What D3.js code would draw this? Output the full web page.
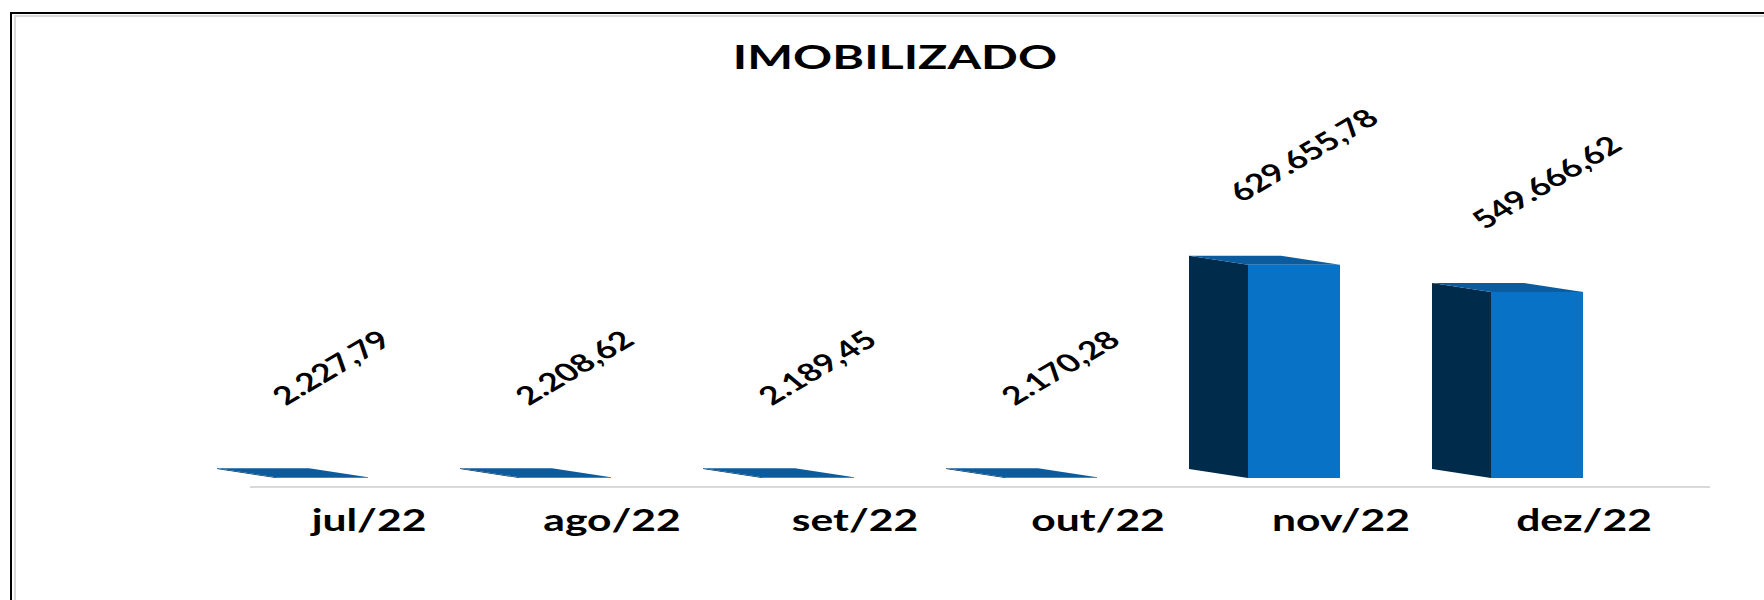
<!DOCTYPE html>
<html>
<head>
<meta charset="utf-8">
<script src="https://cdn.jsdelivr.net/npm/d3@7"></script>
<style>
  body { margin: 0; background: #fff; }
  text { font-family: Lato, "Open Sans", sans-serif; font-weight: bold; fill: #000; }
</style>
</head>
<body>
<div id="chart"></div>
<script>
width = 1764
height = 600

// data
let months = ["jul/22", "ago/22", "set/22", "out/22", "nov/22", "dez/22"]
let values = [2227.79, 2208.62, 2189.45, 2170.28, 629655.78, 549666.62]
let valueLabels = ["2.227,79", "2.208,62", "2.189,45", "2.170,28", "629.655,78", "549.666,62"]
let title = "IMOBILIZADO"

// the picture is stretched sideways, text too
let stretch = 1.42
let depthX = 59, depthY = 9
let frontW = 92
let base = 478

let svg = d3.select("#chart")
.append("svg")
.attr("width", width)
.attr("height", height)

// frame (top + left edges only)
svg.append("path").attr("d", "M11,600 V13 H1764").attr("fill", "none").attr("stroke", "#000").attr("stroke-width", 2)
svg.append("path").attr("d", "M15,600 V16 H1764").attr("fill", "none").attr("stroke", "#d9d9d9").attr("stroke-width", 2)

let x = d3.scaleBand()
.domain(months)
.range([217, 217 + 243 * 6])

let y = d3.scaleLinear()
.domain([0, 700000])
.range([base - depthY, base - depthY - 237])

svg.append("text")
.attr("transform", "translate(895,69) scale(1.47,1)")
.attr("text-anchor", "middle")
.attr("font-size", 33)
.text(title)

// axis line
svg.append("line")
.attr("x1", 250).attr("x2", 1710)
.attr("y1", 487).attr("y2", 487)
.attr("stroke", "#d9d9d9")
.attr("stroke-width", 2)

let bars = svg.append("g")
.selectAll("g")
.data(months)
.join("g")

// left side face
bars.append("path")
.attr("fill", "#002b4b")
.attr("d", (d, i) => {
	let x0 = x(d), top = y(values[i])
	return "M" + x0 + "," + top + " L" + (x0 + depthX) + "," + (top + depthY) +
		" L" + (x0 + depthX) + "," + base + " L" + x0 + "," + (base - depthY) + "Z"
})

// top face
bars.append("path")
.attr("fill", "#0b5c9e")
.attr("d", (d, i) => {
	let x0 = x(d), top = y(values[i])
	return "M" + x0 + "," + top + " L" + (x0 + frontW) + "," + top +
		" L" + (x0 + frontW + depthX) + "," + (top + depthY) + " L" + (x0 + depthX) + "," + (top + depthY) + "Z"
})

// front face
bars.append("rect")
.attr("fill", "#0873c6")
.attr("x", d => x(d) + depthX)
.attr("y", (d, i) => y(values[i]) + depthY)
.attr("width", frontW)
.attr("height", (d, i) => Math.max(0, base - y(values[i]) - depthY))

// value labels
bars.append("text")
.attr("transform", (d, i) => "translate(" + (x(d) + 114) + "," + (y(values[i]) - 101) + ") scale(" + stretch + ",1) rotate(-40)")
.attr("text-anchor", "middle")
.attr("dominant-baseline", "central")
.attr("font-size", 25)
.text((d, i) => valueLabels[i])

// category labels
bars.append("text")
.attr("transform", d => "translate(" + (x(d) + 152) + ",531) scale(" + stretch + ",1)")
.attr("text-anchor", "middle")
.attr("font-size", 30)
.text(d => d)
</script>
</body>
</html>
